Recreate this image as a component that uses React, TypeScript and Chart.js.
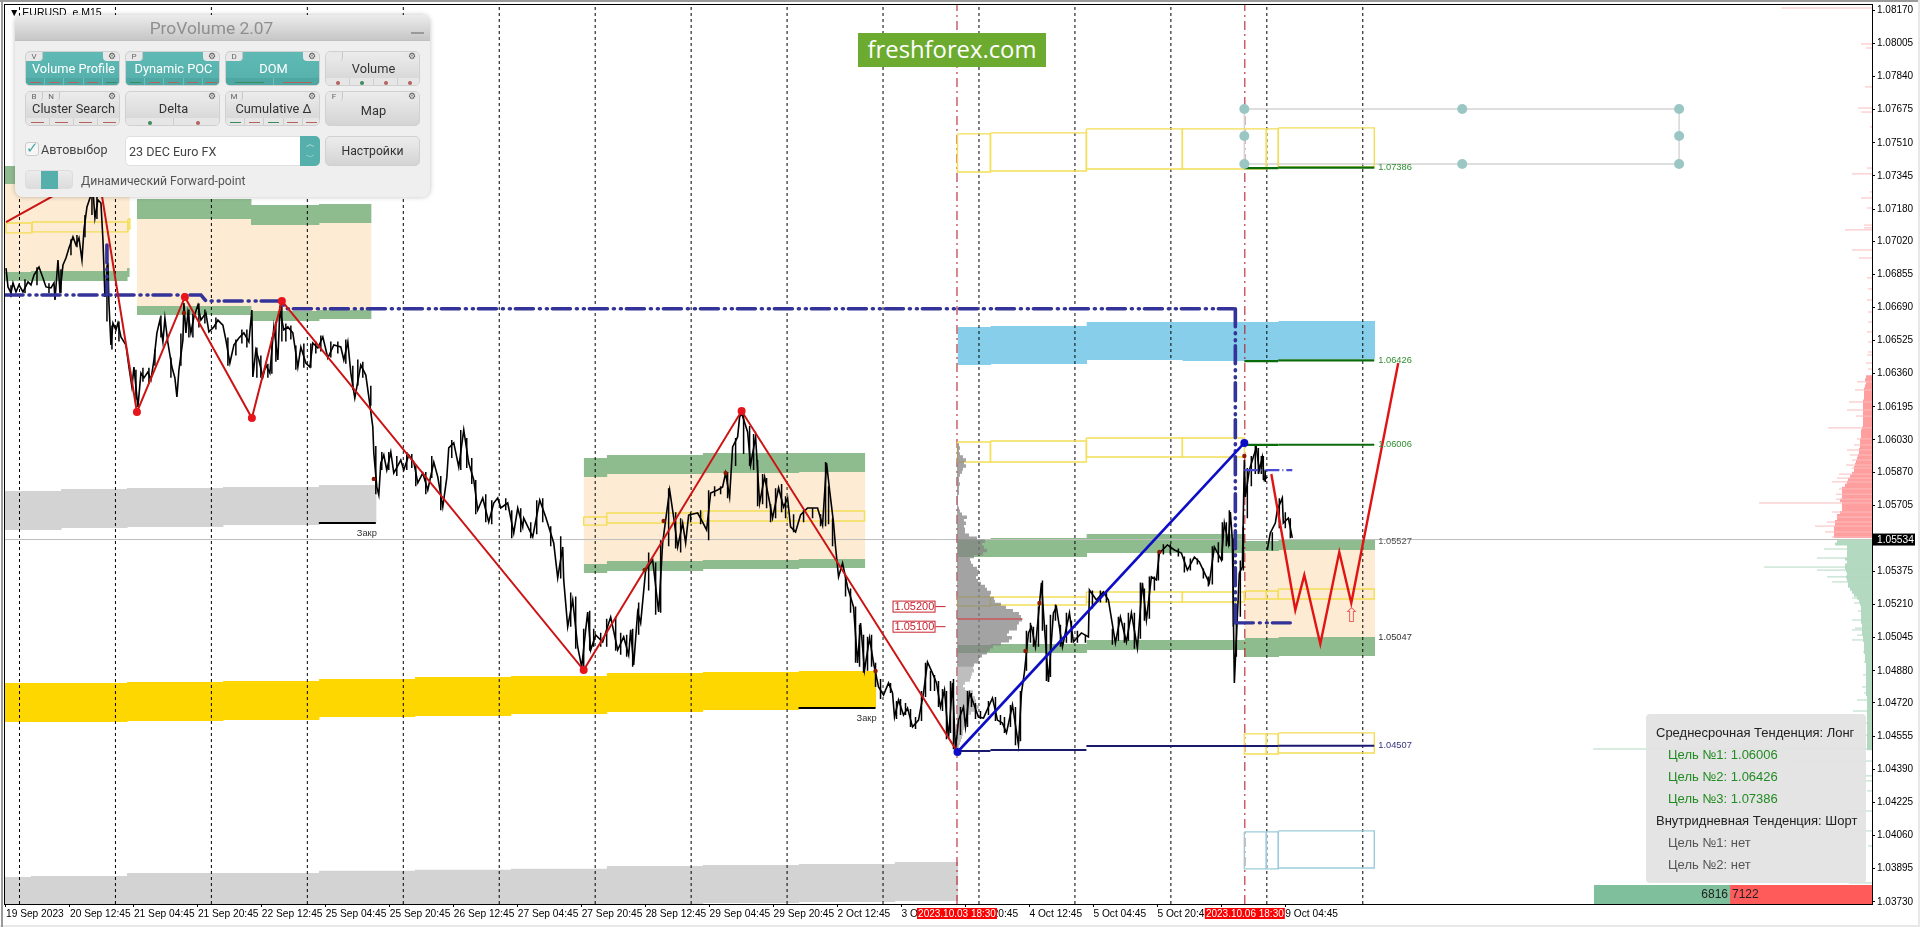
import React, { useEffect, useRef } from "react";
import { Chart, registerables } from "chart.js";
Chart.register(...registerables);

// ---- axis ----
const barMin = 4, barMax = 1872;
const priceMin = 103719, priceMax = 108196; // in points (1e-5)
const yTicks = [108170,108005,107840,107675,107510,107345,107180,107020,106855,106690,106525,106360,106195,106030,105870,105705,105375,105210,105045,104880,104720,104555,104390,104225,104060,103895,103730];
const xTickBars = [5,69,133,197,261,325,389,453,517,581,645,709,773,837,901,965,1029,1093,1157,1221,1285];
const xTickLabels = ["19 Sep 2023","20 Sep 12:45","21 Sep 04:45","21 Sep 20:45","22 Sep 12:45","25 Sep 04:45","25 Sep 20:45","26 Sep 12:45","27 Sep 04:45","27 Sep 20:45","28 Sep 12:45","29 Sep 04:45","29 Sep 20:45","2 Oct 12:45","3 Oct 04:45","3 Oct 20:45","4 Oct 12:45","5 Oct 04:45","5 Oct 20:45","6 Oct 12:45","9 Oct 04:45"];
const daySeparators = [18.5,114.5,210.5,306.5,402.5,498.5,594.5,690.5,786.5,882.5,978.5,1074.5,1170.5,1266.5,1362.5];
const sessionMarkers = [956.5,1244.5];

// ---- price ----
const priceBars = [5,7,10,12,15,18,22,27,30,33,38,42,45,50,53,54,57,59,62,65,68,72,75,78,81,83,86,89,92,94,97,100,102,104,107,108,110,112,115,117,120,125,128,131,133,137,140,143,147,150,153,156,159,162,164,167,171,174,176,178,182,183,185,187,190,193,197,200,205,208,213,217,222,225,229,233,238,243,248,251,252,255,258,262,265,269,273,277,279,283,287,292,297,300,305,309,312,317,322,327,333,340,343,347,350,354,360,365,368,372,373,376,378,380,383,386,390,393,400,403,408,413,417,422,427,433,437,442,446,448,453,458,463,468,473,477,482,488,493,497,500,507,513,517,522,523,532,539,545,553,557,562,563,567,572,577,581,585,587,590,595,602,610,617,623,628,630,633,637,640,645,652,658,662,665,669,673,677,682,685,688,697,702,706,710,717,722,725,729,732,737,739,741,747,750,755,759,764,768,772,778,783,787,790,795,800,807,817,822,826,829,833,835,838,842,847,853,857,860,864,869,873,878,883,888,892,894,898,903,907,912,918,923,927,932,936,940,944,948,952,955,958,963,965,969,973,978,983,992,997,1002,1006,1012,1018,1021,1024,1028,1031,1035,1041,1044,1048,1053,1056,1062,1069,1073,1081,1088,1089,1096,1103,1108,1115,1120,1126,1131,1137,1142,1146,1151,1156,1159,1167,1174,1181,1187,1194,1199,1206,1209,1214,1221,1224,1228,1230,1232,1234,1237,1239,1242,1244,1245,1249,1253,1256,1259,1262,1264,1267,1267,1267,1270,1275,1277,1282,1283,1288,1292];
const pricePoints = [106886,106792,106762,106812,106767,106802,106767,106817,106802,106851,106891,106837,106792,106787,106812,106727,106926,106762,106901,106936,106986,107041,107001,107036,106926,107076,107190,107235,107275,107135,107225,107210,107026,106742,106911,106712,106503,106612,106578,106612,106543,106503,106393,106294,106393,106194,106363,106339,106368,106329,106428,106563,106627,106518,106637,106513,106393,106339,106244,106378,106528,106712,106563,106662,106563,106642,106702,106627,106662,106568,106593,106627,106602,106528,106413,106503,106538,106563,106518,106677,106344,106478,106428,106344,106403,106363,106593,106428,106677,106578,106593,106563,106393,106493,106413,106393,106513,106488,106543,106438,106503,106493,106428,106518,106363,106239,106403,106353,106244,106095,105965,105796,105756,105915,105955,105880,105970,105865,105930,105880,105955,105920,105816,105865,105781,105920,105846,105696,105841,105990,106015,105895,106080,105915,105831,105681,105741,105621,105716,105741,105691,105716,105567,105691,105597,105641,105547,105731,105646,105517,105343,105497,105333,105099,105233,104999,104899,105084,105173,104984,105059,105024,105148,104984,105049,104959,105084,104909,105173,105118,105382,105432,105173,105517,105631,105781,105646,105497,105616,105517,105656,105666,105621,105582,105766,105781,105796,105865,105746,105995,106045,106144,106164,106070,105905,106045,105716,105846,105746,105641,105791,105696,105741,105597,105572,105656,105691,105691,105606,105915,105781,105616,105497,105348,105417,105298,105198,104919,105118,104884,105044,104919,104800,104760,104820,104770,104650,104735,104660,104695,104601,104635,104770,104924,104869,104820,104700,104785,104546,104820,104486,104635,104700,104601,104770,104720,104650,104645,104745,104635,104620,104571,104710,104511,104770,104874,105069,105099,104999,105318,105099,104825,105168,105198,104999,105168,105024,105069,105049,105283,105233,105273,105233,105019,105148,105024,105168,104994,105318,105133,105348,105333,105467,105507,105482,105467,105382,105447,105422,105348,105318,105497,105432,105616,105517,105671,105532,104820,105148,105367,105397,105930,105746,105880,105945,105990,105880,105945,105831,105846,NaN,105482,105567,105616,105681,105741,105616,105641,105542];
// candle ranges: bar, high, low
const wickBars = [10,24,36,48,60,70,76,84,91,96,106,111,118,135,142,148,154,160,170,180,188,192,198,204,215,227,235,241,246,256,260,267,271,275,281,285,290,295,303,310,315,320,330,337,345,352,357,362,370,375,381,388,396,406,411,415,425,431,440,451,460,466,471,475,485,491,505,511,520,530,536,542,550,560,570,575,583,589,593,600,606,615,620,626,632,638,648,655,660,668,675,680,690,700,708,714,720,727,735,743,749,753,757,762,766,770,775,781,785,793,803,812,820,825,828,832,845,850,855,859,863,867,871,875,880,890,896,900,905,910,915,921,925,930,934,938,942,946,950,953,960,967,971,975,980,988,995,1000,1004,1010,1015,1020,1026,1030,1033,1038,1042,1046,1050,1055,1060,1066,1071,1077,1085,1092,1100,1106,1112,1118,1124,1128,1134,1140,1144,1149,1154,1158,1163,1170,1178,1184,1190,1197,1203,1208,1212,1218,1222,1226,1229,1233,1236,1240,1243,1247,1251,1255,1258,1261,1263,1265,1272,1279,1285,1290];
const wickHigh = [106800,106830,106890,106810,106880,107030,107050,107150,107290,107240,106900,106600,106620,106380,106390,106390,106480,106650,106440,106560,106680,106660,106710,106680,106640,106540,106530,106580,106580,106490,106450,106410,106540,106620,106700,106610,106600,106500,106510,106510,106520,106550,106520,106520,106530,106400,106430,106420,106300,106000,105970,105970,105950,105970,105960,105900,105870,105950,105850,106030,106080,106040,105940,105830,105760,105730,105740,105680,105690,105620,105730,105740,105600,105550,105270,105250,105090,105180,105090,105070,105140,105150,105070,105060,105090,105220,105470,105420,105530,105790,105670,105640,105670,105680,105780,105800,105800,105870,106040,106180,106100,106060,105930,105860,105840,105710,105790,105810,105750,105660,105680,105690,105660,105920,105800,105640,105350,105290,105200,105110,105060,105050,105060,104920,104840,104820,104730,104740,104720,104690,104650,104780,104920,104880,104860,104830,104790,104780,104830,104840,104700,104780,104770,104720,104680,104730,104750,104660,104650,104710,104700,104780,105080,105120,105100,105200,105330,105110,105160,105210,105110,105170,105130,105080,105060,105280,105280,105270,105090,105150,105120,105170,105170,105320,105290,105350,105350,105470,105510,105510,105490,105450,105440,105440,105390,105350,105500,105520,105620,105620,105680,105540,105200,105430,105600,105890,105950,106000,105990,105950,105950,105880,105570,105740,105670,105640];
const wickLow = [106740,106760,106800,106760,106760,106950,106990,107040,107150,107130,106620,106480,106520,106230,106320,106310,106400,106540,106340,106400,106540,106540,106590,106610,106580,106400,106450,106510,106490,106340,106340,106340,106360,106420,106520,106520,106530,106380,106390,106390,106460,106470,106440,106460,106410,106280,106300,106340,106200,105760,105880,105880,105850,105880,105890,105800,105760,105840,105680,105940,105880,105890,105810,105660,105620,105610,105680,105540,105570,105540,105560,105620,105500,105340,105100,104990,104880,104980,105000,105000,105000,104980,104960,104950,104900,105060,105280,105160,105170,105500,105490,105470,105620,105610,105530,105750,105760,105740,105900,105960,105900,105880,105700,105710,105690,105620,105640,105670,105640,105570,105620,105640,105600,105600,105610,105500,105250,105170,104920,104900,104870,104880,104900,104800,104740,104770,104640,104660,104660,104600,104590,104630,104750,104780,104780,104700,104680,104540,104570,104490,104560,104600,104700,104640,104640,104660,104630,104610,104570,104600,104510,104530,104880,105020,105000,105000,105080,104830,104850,105130,105000,105020,105020,105020,105020,105190,105220,105220,105010,105030,105020,105030,104990,105040,105130,105140,105280,105330,105460,105460,105450,105370,105380,105410,105340,105300,105310,105420,105430,105500,105500,105100,104950,105150,105380,105640,105800,105860,105860,105860,105830,105820,105480,105590,105590,105540];

// ---- zones: [barFrom, barTo, topPrice, bottomPrice] ----
const peachZones = [[4,128,107305,106866],[136,250,107130,106697],[250,318,107100,106672],[318,370,107110,106677],[583,606,105846,105412],[606,702,105860,105427],[702,798,105865,105432],[798,864,105870,105437],[1244,1278,105477,105044],[1278,1374,105482,105049]];
const greenZones = [[4,128,107394,107305],[4,30,106866,106822],[30,126,106871,106822],[126,128,106886,106842],[136,250,107230,107130],[250,318,107200,107100],[318,370,107205,107110],[136,250,106697,106652],[250,318,106672,106622],[318,370,106677,106632],[583,606,105940,105846],[606,702,105955,105860],[702,798,105965,105865],[798,864,105965,105870],[583,606,105412,105367],[606,702,105427,105377],[702,798,105432,105387],[798,864,105437,105392],[957,990,105532,105447],[990,1086,105542,105447],[1086,1244,105562,105467],[957,990,105009,104969],[990,1086,105014,104969],[1086,1244,105034,104984],[1244,1278,105527,105477],[1278,1374,105537,105482],[1244,1278,105044,104949],[1278,1374,105049,104954]];
const greyZones = [[4,60,105776,105582],[60,126,105786,105592],[126,222,105791,105597],[222,318,105796,105606],[318,375,105806,105616],[4,30,103854,103719],[30,126,103859,103719],[126,318,103874,103719],[318,414,103884,103719],[414,510,103889,103719],[510,606,103894,103719],[606,702,103908,103719],[702,798,103913,103724],[798,894,103918,103729],[894,957,103928,103734]];
const goldZones = [[4,126,104820,104625],[126,222,104825,104630],[222,318,104830,104635],[318,414,104840,104650],[414,510,104850,104655],[510,606,104855,104665],[606,702,104869,104675],[702,798,104874,104685],[798,875,104879,104695]];
const blueZones = [[957,990,106593,106403],[990,1086,106598,106408],[1086,1182,106617,106428],[1182,1278,106617,106423],[1278,1374,106622,106433]];
const yellowBoxes = [[5,31,107110,107061],[31,127,107115,107066],[127,129,107130,107081],[583,606,105646,105606],[606,702,105666,105616],[702,786,105676,105626],[786,864,105676,105626],[957,990,106020,105920],[990,1086,106025,105920],[1086,1182,106040,105945],[1182,1244,106040,105945],[957,990,105248,105203],[990,1086,105248,105208],[1086,1182,105273,105223],[1182,1244,105273,105223],[1244,1266,105278,105238],[1266,1278,105278,105238],[1278,1374,105288,105238],[1244,1266,104566,104466],[1266,1278,104566,104466],[1278,1374,104571,104471],[957,990,107554,107364],[990,1086,107559,107369],[1086,1182,107579,107379],[1182,1266,107579,107379],[1266,1278,107579,107384],[1278,1374,107584,107389]];
const paleBlueBoxes = [[1244,1266,104078,103894],[1266,1278,104078,103894],[1278,1374,104083,103898]];

// ---- level segments: [barFrom, barTo, price] ----
const targetLines = [[1244,1278,106005],[1278,1374,106006],[1244,1278,106423],[1278,1374,106426],[1244,1278,107384],[1278,1374,107386]];
const supportLines = [[957,990,104481],[990,1086,104486],[1086,1278,104506],[1278,1374,104507]];
const closeLines = [[318,375,105616],[798,875,104695]];
const poc = [[200,106752],[205,106722],[281,106722],[285,106683],[1233,106683]];
const pocStart = [4,106752];
const pocVerticals = [[106,107001,106752],[1235,106683,105119]];
const shortPoc = [1235,1290,105119];
const shortPocBlue = [1244,1292,105880];

// ---- zig-zag ----
const zigBars = [5,97,136,184,251,281,583,741,957];
const zigPrices = [107115,107369,106169,106742,106139,106722,104884,106174,104476];
const upBars = [957,1244];
const upPrices = [104476,106015];
const forecastBars = [1271,1295,1304,1320,1339,1351,1398];
const forecastPrices = [105860,105183,105357,105014,105472,105218,106413];
const swingBars = [136,184,251,281,583,741];
const swingPrices = [106169,106742,106139,106722,104884,106174];
const touchBars = [183,373,644,663,725,875,1025,1039,1159,1244];
const touchPrices = [106662,105836,105382,105626,105865,104879,104979,105218,105472,105950];

// ---- selection frame ----
const frameBars = [1244,1462,1679];
const framePrices = [107678,107544,107404];

// ---- volume profile: bar lengths from top level down ----
const profileTop = 106005, profileStep = 15;
const profileLengths = [2,3,2,3,6,9,7,9,6,5,3,2,2,3,2,2,2,1,1,1,1,2,3,5,10,7,9,7,8,8,12,20,28,25,27,30,26,17,13,14,16,20,22,21,19,21,24,28,30,34,33,37,38,44,49,56,62,64,65,62,60,60,52,50,55,52,44,36,33,30,25,22,21,17,16,17,15,14,13,8,6,8,16,15,18,19,17,22,19,14,11,9,10,8,7,6,6,5,4,3,2];
const profileLightFrom = 74;
const pocRow = [957,1022,105138];

// ---- market depth at right ----
const sellTop = 106344, buyTop = 105527, depthStep = 15;
const sellDepth = [6,7,6,7,8,8,8,8,9,9,9,9,9,9,9,9,9,10,11,11,11,12,12,12,13,13,14,15,16,17,18,18,20,22,24,25,27,30,30,30,30,32,30,30,30,32,35,35,37,37,38,38,38,38];
const buyDepth = [35,37,25,25,25,25,27,25,27,27,26,25,26,25,24,24,22,20,18,15,13,12,11,11,11,11,11,11,10,10,10,10,9,9,8,8,8,8,7,7,7,6,6,6,6,6,6,6,6,6,6,6,5,5,5,5,5,5,5,5,5,5,5,5,5,5,5,5,5,5];
const sellLevels = [108181,108002,107982,107788,107683,107663,107589,107384,107355,107265,107235,107185,107100,107086,107076,106976,106936,106837,106782,106727,106667,106617,106568,106518,106468,106453,106413,106383,106319,106279,106219,106179,106149,106090,105980,105930,105890,105860,105821,105786,105716,105671,105646,105621,105601,105572,105547,106035,106005,105955,105905,105840,105760,105735];
const sellSpikes = [91,11,6,7,14,11,2,5,20,2,11,5,8,8,27,20,13,5,4,5,4,4,5,4,4,5,6,4,15,17,23,25,16,44,25,20,20,33,40,33,113,40,35,45,57,47,40,15,18,22,26,35,36,36];
const buyLevels = [105487,105442,105397,105382,105348,105323,105308,105273,105243,105133,105084,105034,104735,104680,104491,104431,104357,104332,104282,104182,104083,104008,103824,105218,105178,105093,105058,104975,104925,104860,104800,104770,104620,104560];
const buySpikes = [48,55,108,55,45,40,22,15,20,20,20,20,15,19,279,82,12,11,5,23,25,4,23,18,14,17,15,9,8,9,10,8,6,7];

// ---- volume balance ----
const balancePivot = 1730, balanceUnit = 50;
const buyVolume = 6816, sellVolume = 7122;
const balanceTop = 103814;

// ---- labels ----
const currentPrice = 105534;
const targetLabels: [string, number, string][] = [["1.07386",107386,"#2f8f2f"],["1.06426",106426,"#2f8f2f"],["1.06006",106006,"#2f8f2f"],["1.05527",105527,"#555555"],["1.05047",105047,"#333333"],["1.04507",104507,"#33337f"]];
const priceAlerts = [105200,105100];
const closeNotes: [number, number][] = [[356,105566],[856,104645]];

const DEPTH_W = 1;
const P = (v: number) => v / 100000;

function App() {
  const ref = useRef<HTMLCanvasElement | null>(null);
  useEffect(() => {
    document.body.style.margin = "0";
    document.body.style.background = "#fff";
    const ds: any[] = [];
    const add = (o: any) => { ds.push({ type: "line", pointRadius: 0, borderWidth: 0, tension: 0, order: -ds.length, ...o }); };
    const band = (z: number[], c: string) => add({
      data: [{ x: z[0], y: P(z[2]) }, { x: z[1] + 0.8, y: P(z[2]) }],
      fill: { target: { value: P(z[3]) } }, backgroundColor: c, borderColor: "transparent",
    });
    const box = (z: number[], c: string, w = 1.4) => add({
      data: [{ x: z[0], y: P(z[2]) }, { x: z[1], y: P(z[2]) }, { x: z[1], y: P(z[3]) }, { x: z[0], y: P(z[3]) }, { x: z[0], y: P(z[2]) }],
      borderColor: c, borderWidth: w,
    });
    const seg = (a: number, b: number, p: number, c: string, w: number, extra: any = {}) => add({
      data: [{ x: a, y: P(p) }, { x: b, y: P(p) }], borderColor: c, borderWidth: w, ...extra,
    });
    const series = (xs: number[], ys: number[], c: string, w: number, extra: any = {}) => add({
      data: xs.map((x, i) => ({ x, y: Number.isNaN(ys[i]) ? NaN : P(ys[i]) })), borderColor: c, borderWidth: w, ...extra,
    });
    const rows = (items: [number, number][], anchor: number, dir: number, c: string, w: number) => {
      const data: any[] = [];
      items.forEach(([p, len]) => {
        data.push({ x: anchor, y: P(p) }, { x: anchor + dir * len, y: P(p) }, { x: anchor, y: NaN });
      });
      add({ data, borderColor: c, borderWidth: w });
    };

    peachZones.forEach((z) => band(z, "#fdebd3"));
    greyZones.forEach((z) => band(z, "#d3d3d3"));
    goldZones.forEach((z) => band(z, "#ffd700"));
    greenZones.forEach((z) => band(z, "#8fbc8f"));
    blueZones.forEach((z) => band(z, "#87ceeb"));

    // current price line + depth
    seg(barMin, barMax, currentPrice, "#bdbdbd", 1);
    rows(sellDepth.map((l, i) => [sellTop - i * depthStep, l]), barMax, -1, "#ff9e9e", 3.1);
    rows(buyDepth.map((l, i) => [buyTop - i * depthStep, l]), barMax, -1, "#b3d9c0", 3.1);
    rows(sellLevels.map((p, i) => [p, sellSpikes[i]]), barMax, -1, "#fbbcbc", DEPTH_W);
    rows(buyLevels.map((p, i) => [p, buySpikes[i]]), barMax, -1, "#b3d9c0", DEPTH_W);
    band([balancePivot - buyVolume / balanceUnit, balancePivot, balanceTop, priceMin], "#7fbf9c");
    band([balancePivot, Math.min(barMax, balancePivot + sellVolume / balanceUnit), balanceTop, priceMin], "#ff5b5b");

    // session and day separators
    daySeparators.forEach((x) => add({
      data: [{ x, y: P(priceMin) }, { x, y: P(priceMax) }], borderColor: "#000", borderWidth: 1, borderDash: [3, 3],
    }));
    sessionMarkers.forEach((x) => add({
      data: [{ x, y: P(priceMin) }, { x, y: P(priceMax) }], borderColor: "#b01020", borderWidth: 1, borderDash: [9, 4, 2, 4],
    }));

    // selection frame
    box([frameBars[0], frameBars[2], framePrices[0], framePrices[2]], "#d4d4d4", 1.4);

    yellowBoxes.forEach((z) => box(z, "#f3de55"));
    paleBlueBoxes.forEach((z) => box(z, "#9ccbdc"));

    // volume profile
    const prof = profileLengths.map((l, i) => [profileTop - i * profileStep, l] as [number, number]);
    rows(prof.slice(0, profileLightFrom), sessionMarkers[0], 1, "rgba(132,132,132,0.75)", 3.5);
    rows(prof.slice(profileLightFrom), sessionMarkers[0], 1, "rgba(147,147,147,0.6)", 3.5);
    seg(pocRow[0], pocRow[1], pocRow[2], "#c9545a", 1.5);

    // price
    const wd: any[] = [];
    wickBars.forEach((x, i) => { wd.push({ x, y: P(wickHigh[i]) }, { x, y: P(wickLow[i]) }, { x, y: NaN }); });
    add({ data: wd, borderColor: "#000", borderWidth: 1.5 });
    series(priceBars, pricePoints, "#000", 1.6);
    closeLines.forEach((l) => seg(l[0], l[1], l[2], "#000", 2));

    // indicator dash-dot lines
    const dd = { borderDash: [18, 6, 1, 6, 1, 5], borderCapStyle: "round" };
    series([pocStart[0], ...poc.map((p) => p[0])], [pocStart[1], ...poc.map((p) => p[1])], "#333399", 3.6, dd);
    pocVerticals.forEach((v) => add({
      data: [{ x: v[0], y: P(v[1]) }, { x: v[0], y: P(v[2]) }], borderColor: "#333399", borderWidth: 3.6, ...dd,
    }));
    seg(shortPoc[0], shortPoc[1], shortPoc[2], "#333399", 3.4, dd);
    seg(shortPocBlue[0], shortPocBlue[1], shortPocBlue[2], "#4a4ad0", 2.2, { borderDash: [14, 3, 1, 3] });

    targetLines.forEach((l) => seg(l[0], l[1], l[2], "#0a6b0a", 2.2));
    supportLines.forEach((l) => seg(l[0], l[1], l[2], "#191970", 2));

    // zig-zags
    series(zigBars, zigPrices, "#cc1414", 2);
    series(forecastBars, forecastPrices, "#e01414", 2.4);
    series(upBars, upPrices, "#0d0dc8", 2.6);

    // markers
    add({ data: swingBars.map((x, i) => ({ x, y: P(swingPrices[i]) })), showLine: false, pointRadius: 4, pointBackgroundColor: "#e8141c", pointBorderWidth: 0 });
    add({ data: upBars.map((x, i) => ({ x, y: P(upPrices[i]) })), showLine: false, pointRadius: 4, pointBackgroundColor: "#0d0dc8", pointBorderWidth: 0 });
    add({ data: touchBars.map((x, i) => ({ x, y: P(touchPrices[i]) })), showLine: false, pointRadius: 2.2, pointBackgroundColor: "#8b1a00", pointBorderWidth: 0 });
    const hx: any[] = [];
    frameBars.forEach((x) => framePrices.forEach((y, j) => { if (j !== 1 || x !== frameBars[1]) hx.push({ x, y: P(y) }); }));
    add({ data: hx, showLine: false, pointRadius: 5, pointBackgroundColor: "#9ac7c4", pointBorderWidth: 0 });

    const overlay = {
      id: "overlay",
      afterDatasetsDraw(c: any) {
        const g = c.ctx; const xs = c.scales.x; const ys = c.scales.y;
        const { left, top, right, bottom } = c.chartArea;
        g.save();
        g.strokeStyle = "#000"; g.lineWidth = 1;
        g.strokeRect(left - 0.5, top - 0.5, right - left + 1, bottom - top + 1);
        g.textBaseline = "middle";
        g.font = "9.3px 'Liberation Sans'";
        targetLabels.forEach(([t, p, col]) => {
          g.fillStyle = col;
          g.fillText(t, xs.getPixelForValue(1378), ys.getPixelForValue(P(p)));
        });
        g.fillStyle = "#333";
        closeNotes.forEach(([b, p]) => g.fillText("Закр", xs.getPixelForValue(b), ys.getPixelForValue(P(p))));
        // alerts
        priceAlerts.forEach((p) => {
          const y = ys.getPixelForValue(P(p));
          const x0 = xs.getPixelForValue(892);
          g.fillStyle = "#fff"; g.fillRect(x0, y - 5.5, 43, 11);
          g.strokeStyle = "#c8202c"; g.lineWidth = 1; g.strokeRect(x0 + 0.5, y - 5.5, 42, 11);
          g.beginPath(); g.moveTo(x0 + 43, y); g.lineTo(x0 + 53, y); g.stroke();
          g.fillStyle = "#c8202c"; g.font = "11px 'Liberation Sans'";
          g.fillText(P(p).toFixed(5), x0 + 2, y + 0.5);
        });
        // arrow
        g.fillStyle = "#f06060"; g.textAlign = "center"; g.font = "20px 'DejaVu Sans'";
        g.fillText("\u21E7", xs.getPixelForValue(1351), ys.getPixelForValue(P(105148)));
        g.textAlign = "left";
        // current price badge
        const by = ys.getPixelForValue(P(currentPrice));
        g.fillStyle = "#000"; g.fillRect(right + 1, by - 6, 42, 12);
        g.fillStyle = "#fff"; g.font = "10.2px 'Liberation Sans'";
        g.fillText(P(currentPrice).toFixed(5), right + 5, by + 0.5);
        // session flags
        const flag = (b: number, t: string) => {
          const x = xs.getPixelForValue(b);
          g.fillStyle = "#ff0000"; g.fillRect(x - 40, bottom + 4, 80, 11);
          g.fillStyle = "#fff"; g.textAlign = "center"; g.font = "10px 'Liberation Sans'";
          g.fillText(t, x, bottom + 10);
          g.textAlign = "left";
        };
        flag(sessionMarkers[0], "2023.10.03 18:30");
        flag(sessionMarkers[1], "2023.10.06 18:30");
        g.restore();
      },
    };

    const chart = new Chart(ref.current as HTMLCanvasElement, {
      type: "line",
      data: { datasets: ds },
      options: {
        animation: false,
        responsive: false,
        devicePixelRatio: 1,
        layout: { padding: { left: 4, top: 5, right: 0, bottom: 0 } },
        plugins: { legend: { display: false }, tooltip: { enabled: false } },
        events: [],
        scales: {
          x: {
            type: "linear", min: barMin, max: barMax,
            afterBuildTicks: (s: any) => { s.ticks = xTickBars.map((value) => ({ value })); },
            afterFit: (s: any) => { s.height = 23; s.paddingLeft = 0; s.paddingRight = 0; s.paddingTop = 0; s.paddingBottom = 0; },
            ticks: {
              autoSkip: false, maxRotation: 0, minRotation: 0, align: "start", padding: 1,
              color: "#000", font: { family: "Liberation Sans", size: 10.2 },
              callback: (_v: any, i: number) => xTickLabels[i],
            },
            grid: { drawOnChartArea: false, drawTicks: true, tickLength: 3, color: "#000" },
            border: { color: "#000" },
          },
          y: {
            type: "linear", position: "right", min: P(priceMin), max: P(priceMax),
            afterBuildTicks: (s: any) => { s.ticks = yTicks.map((v) => ({ value: P(v) })); },
            afterFit: (s: any) => { s.width = 48; s.paddingLeft = 0; s.paddingRight = 0; s.paddingTop = 0; s.paddingBottom = 0; },
            ticks: {
              autoSkip: false, padding: 2, color: "#000", font: { family: "Liberation Sans", size: 10 },
              callback: (v: any) => Number(v).toFixed(5),
            },
            grid: { drawOnChartArea: false, drawTicks: true, tickLength: 3, color: "#000" },
            border: { color: "#000" },
          },
        },
      },
      plugins: [overlay],
    } as any);
    return () => chart.destroy();
  }, []);

  const abs = (l: number, t: number, w: number, h: number, extra: any = {}) => ({
    position: "absolute", left: l, top: t, width: w, height: h, boxSizing: "border-box", ...extra,
  });

  const Btn = ({ x, y, label, active, keys, foot }: any) => {
    const bg = active ? "linear-gradient(#5fbab5,#55b0ab)" : "linear-gradient(#ececec,#d4d4d4)";
    return (
      <div style={abs(x, y, 95, 35, { background: bg, borderRadius: 5, border: "1px solid #d0d0d0", overflow: "hidden" }) as any}>
        {keys.map((k: string, i: number) => (
          <div key={i} style={abs(i * 17, 0, 17, 9, { background: "#e8e8e8", borderRadius: "0 0 4px 0", color: "#666", fontSize: 8, lineHeight: "10px", textAlign: "center", borderRight: "1px solid #c8c8c8" }) as any}>{k}</div>
        ))}
        <div style={abs(77, 0, 18, 9, { background: "#e8e8e8", borderRadius: "0 0 0 4px", color: "#555", fontSize: 9, lineHeight: "9px", textAlign: "center" }) as any}>⚙</div>
        <div style={abs(0, foot ? 7 : 9, 95, 20, { color: active ? "#fff" : "#333", fontSize: 12.8, lineHeight: "20px", textAlign: "center", fontFamily: "Roboto" }) as any}>{label}</div>
        {foot && (
          <div style={abs(0, 26, 95, 9, { display: "flex", background: active ? "#4ea7a2" : "#e6e6e6" }) as any}>
            {foot.map((c: string, i: number) => (
              <div key={i} style={{ flex: 1, display: "flex", alignItems: "center", justifyContent: "center", borderLeft: i ? "1px solid " + (active ? "#6cc0bb" : "#cfcfcf") : "none" }}>
                {c[0] === "o"
                  ? <div style={{ width: 4, height: 4, borderRadius: 2, background: c.slice(1) }} />
                  : <div style={{ width: "60%", height: 1, background: c }} />}
              </div>
            ))}
          </div>
        )}
      </div>
    );
  };
  const r = "#b5625a", g = "#3d8b5c", ro = "o#b5625a", go = "o#3d8b5c";

  return (
    <div style={{ position: "relative", width: 1920, height: 927, overflow: "hidden", background: "#fff", fontFamily: "Roboto" }}>
      <canvas ref={ref} width={1920} height={927} style={{ display: "block", position: "absolute", left: 0, top: 0 }} />
      <div style={abs(0, 0, 1920, 2, { background: "#9a9a9a" }) as any} />
      <div style={abs(0, 925, 1920, 2, { background: "#e8e8e8" }) as any} />
      <div style={abs(1918, 0, 2, 927, { background: "#e8e8e8" }) as any} />
      <div style={abs(1, 0, 2, 927, { background: "#9a9a9a" }) as any} />
      <div style={abs(9, 7, 140, 10, { fontFamily: "'Liberation Sans'", fontSize: 10.5, lineHeight: "10px", color: "#000" }) as any}>▼ EURUSD_e,M15</div>

      {/* ProVolume panel */}
      <div style={abs(15, 15, 415, 182, { background: "#efefef", borderRadius: 8, boxShadow: "0 0 5px rgba(0,0,0,.25)" }) as any}>
        <div style={abs(0, 0, 415, 26, { background: "linear-gradient(#ececec,#c6c6c6)", borderRadius: "8px 8px 0 0", borderBottom: "1px solid #c0c0c0", color: "#8f8f8f", fontSize: 17.4, lineHeight: "26px", textAlign: "center", paddingRight: 22 }) as any}>ProVolume 2.07</div>
        <div style={abs(396, 17, 13, 2, { background: "#9a9a9a" }) as any} />
        <Btn x={10} y={36} label="Volume Profile" active keys={["V"]} foot={[r, r, r, r, g]} />
        <Btn x={110} y={36} label="Dynamic POC" active keys={["P"]} foot={[g, r, r, r, r]} />
        <Btn x={210} y={36} label="DOM" active keys={["D"]} foot={[g, r]} />
        <Btn x={310} y={36} label="Volume" keys={[""]} foot={[ro, go, ro, ro]} />
        <Btn x={10} y={76} label="Cluster Search" keys={["B", "N"]} foot={[r, r, r, r]} />
        <Btn x={110} y={76} label="Delta" keys={[]} foot={[go, ro]} />
        <Btn x={210} y={76} label="Cumulative Δ" keys={["M"]} foot={[g, r, g, r, r]} />
        <Btn x={310} y={76} label="Map" keys={["F"]} />
        <div style={abs(10, 127, 14, 14, { background: "#f6f6f6", border: "1px solid #ccc", borderRadius: 3, color: "#45a9a4", fontSize: 15, lineHeight: "11px", textAlign: "center" }) as any}>✓</div>
        <div style={abs(26, 126, 90, 18, { color: "#444", fontSize: 12.6, lineHeight: "18px" }) as any}>Автовыбор</div>
        <div style={abs(110, 121, 195, 30, { background: "#fff", borderRadius: 5, border: "1px solid #e0e0e0", color: "#444", fontSize: 12.6, lineHeight: "30px", paddingLeft: 3 }) as any}>23 DEC Euro FX</div>
        <div style={abs(285, 121, 20, 30, { background: "#55b0ab", borderRadius: "0 5px 5px 0", color: "#d8f0ee", fontSize: 9, lineHeight: "13px", textAlign: "center", paddingTop: 2 }) as any}>︿<br />﹀</div>
        <div style={abs(310, 121, 95, 30, { background: "linear-gradient(#ececec,#d4d4d4)", borderRadius: 5, border: "1px solid #d0d0d0", color: "#333", fontSize: 12.2, lineHeight: "29px", textAlign: "center" }) as any}>Настройки</div>
        <div style={abs(10, 155, 48, 19, { background: "linear-gradient(#ececec,#dcdcdc)", borderRadius: 4, border: "1px solid #ddd" }) as any}>
          <div style={abs(15, 0, 17, 18, { background: "#55b0ab" }) as any} />
        </div>
        <div style={abs(66, 157, 300, 18, { color: "#555", fontSize: 12.2, lineHeight: "18px" }) as any}>Динамический Forward-point</div>
      </div>

      {/* banner */}
      <div style={abs(858, 33, 188, 34, { background: "#6cab2f", color: "#fff", fontFamily: "'Open Sans'", fontSize: 23.8, lineHeight: "33px", textAlign: "center" }) as any}>freshforex.com</div>

      {/* trend box */}
      <div style={abs(1646, 714, 220, 169, { background: "rgba(226,226,226,.93)", borderRadius: 4, fontFamily: "'Liberation Sans'", fontSize: 13, lineHeight: "22px" }) as any}>
        <div style={abs(10, 8, 210, 22, { color: "#222" }) as any}>Среднесрочная Тенденция: Лонг</div>
        <div style={abs(22, 30, 190, 22, { color: "#228b22" }) as any}>Цель №1: 1.06006</div>
        <div style={abs(22, 52, 190, 22, { color: "#228b22" }) as any}>Цель №2: 1.06426</div>
        <div style={abs(22, 74, 190, 22, { color: "#228b22" }) as any}>Цель №3: 1.07386</div>
        <div style={abs(10, 96, 210, 22, { color: "#222" }) as any}>Внутридневная Тенденция: Шорт</div>
        <div style={abs(22, 118, 190, 22, { color: "#555" }) as any}>Цель №1: нет</div>
        <div style={abs(22, 140, 190, 22, { color: "#555" }) as any}>Цель №2: нет</div>
      </div>
      <div style={abs(1680, 885, 48, 19, { fontFamily: "'Liberation Sans'", fontSize: 12, lineHeight: "19px", color: "#222", textAlign: "right" }) as any}>{buyVolume}</div>
      <div style={abs(1732, 885, 48, 19, { fontFamily: "'Liberation Sans'", fontSize: 12, lineHeight: "19px", color: "#222" }) as any}>{sellVolume}</div>
    </div>
  );
}

export default App;
